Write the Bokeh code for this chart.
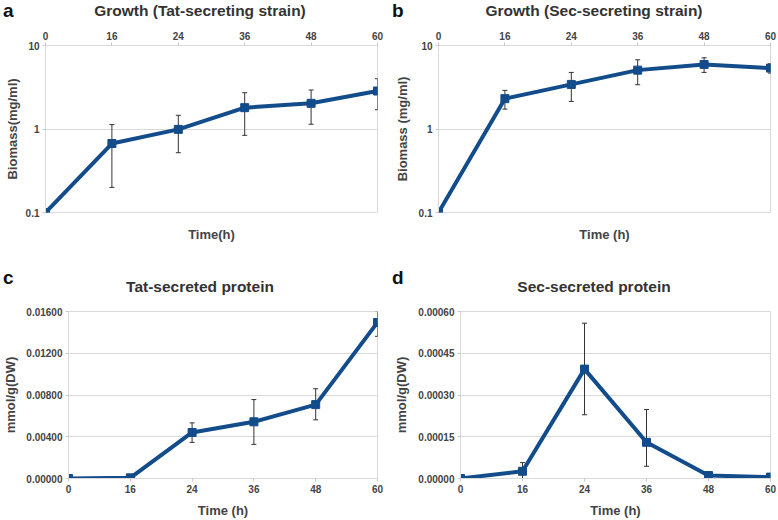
from bokeh.plotting import figure
from bokeh.models import (Range1d, FixedTicker, LinearAxis, Whisker, ColumnDataSource,
                          TeeHead, NumeralTickFormatter, Div)
from bokeh.layouts import column, row
from bokeh.embed import file_html
from bokeh.resources import INLINE

# ---------------- data ----------------
time_labels = ["0", "16", "24", "36", "48", "60"]

tat_biomass = [0.1, 0.67, 0.99, 1.80, 2.03, 2.85]
tat_biomass_hi = [0.1, 1.13, 1.46, 2.72, 2.93, 4.00]
tat_biomass_lo = [0.1, 0.20, 0.52, 0.84, 1.14, 1.70]

sec_biomass = [0.1, 2.31, 3.42, 5.07, 5.93, 5.36]
sec_biomass_hi = [0.1, 2.90, 4.76, 6.74, 7.13, 6.04]
sec_biomass_lo = [0.1, 1.73, 2.14, 3.39, 4.76, 4.67]

tat_protein = [0.0, 0.00006, 0.00441, 0.00543, 0.00708, 0.01495]
tat_protein_hi = [0.0, 0.00006, 0.00533, 0.00756, 0.00860, 0.01606]
tat_protein_lo = [0.0, 0.00006, 0.00346, 0.00327, 0.00562, 0.01362]

sec_protein = [0.0, 0.000026, 0.000393, 0.000130, 0.0000107, 0.000005]
sec_protein_hi = [0.0, 0.000057, 0.000558, 0.000248, 0.000015, 0.000005]
sec_protein_lo = [0.0, -0.000005, 0.000229, 0.000044, 0.000007, 0.000005]

biomass_ticks = [0.1, 1, 10]
tat_protein_ticks = [0.0, 0.004, 0.008, 0.012, 0.016]
sec_protein_ticks = [0.0, 0.00015, 0.0003, 0.00045, 0.0006]

# ---------------- style ----------------
FONT = "Liberation Sans"
LINE = "#124c8a"
GRID = "#d9d9d9"
TXT = "#444444"


def header(letter, title, width, height, letter_cy, title_cx, title_cy):
    html = (
        f'<div style="position:relative;width:{width}px;height:{height}px;'
        f'font-family:\'{FONT}\',Arial,sans-serif;white-space:nowrap;">'
        f'<span style="position:absolute;left:3px;top:{letter_cy - 12}px;line-height:24px;'
        f'font-size:19px;font-weight:bold;color:#111111;">{letter}</span>'
        f'<span style="position:absolute;left:0px;width:{2 * title_cx}px;text-align:center;'
        f'top:{title_cy - 10}px;line-height:20px;font-size:15.5px;font-weight:bold;'
        f'color:#333333;">{title}</span></div>'
    )
    return Div(text=html, width=width, height=height, margin=0)


def style_axis_label(ax):
    ax.axis_label_text_font = FONT
    ax.axis_label_text_font_style = "bold"
    ax.axis_label_text_font_size = "13px"
    ax.axis_label_text_color = TXT


def style_ticks(ax):
    ax.major_label_text_font = FONT
    ax.major_label_text_font_style = "bold"
    ax.major_label_text_font_size = "10px"
    ax.major_label_text_color = TXT
    ax.major_label_standoff = 3
    ax.axis_line_color = GRID
    ax.major_tick_line_color = "#c8c8c8"
    ax.major_tick_in = 0
    ax.major_tick_out = 3
    ax.minor_tick_line_color = None


def make_panel(ylabel, xlabel, y, hi, lo, log_scale, yticks, yfmt,
               top_axis, width, height, bl, br, bt, bb, ylab_standoff):
    idx = list(range(len(time_labels)))
    kw = dict(width=width, height=height, output_backend="svg", toolbar_location=None,
              min_border_left=bl, min_border_right=br, min_border_top=bt, min_border_bottom=bb,
              x_range=Range1d(idx[0], idx[-1]),
              y_range=Range1d(yticks[0], yticks[-1]),
              x_axis_location="above" if top_axis else "below")
    if log_scale:
        kw["y_axis_type"] = "log"
    p = figure(**kw)
    p.margin = 0
    p.outline_line_color = GRID
    p.xgrid.visible = False
    p.ygrid.grid_line_color = GRID
    p.ygrid.ticker = FixedTicker(ticks=yticks)

    xa = p.xaxis[0]
    xa.ticker = FixedTicker(ticks=idx)
    xa.major_label_overrides = {i: t for i, t in zip(idx, time_labels)}
    style_ticks(xa)
    if top_axis:
        ba = LinearAxis(ticker=FixedTicker(ticks=[]), axis_label=xlabel)
        ba.axis_line_color = None
        ba.major_tick_line_color = None
        ba.minor_tick_line_color = None
        ba.major_label_text_font_size = "0px"
        ba.axis_label_standoff = 14
        p.add_layout(ba, "below")
        style_axis_label(ba)
    else:
        xa.axis_label = xlabel
        xa.axis_label_standoff = 7
        style_axis_label(xa)

    ya = p.yaxis[0]
    ya.ticker = FixedTicker(ticks=yticks)
    ya.formatter = NumeralTickFormatter(format=yfmt)
    ya.axis_label = ylabel
    ya.axis_label_standoff = ylab_standoff
    style_axis_label(ya)
    style_ticks(ya)

    keep = [i for i in idx if hi[i] != lo[i]]
    esrc = ColumnDataSource(dict(x=[idx[i] for i in keep], hi=[hi[i] for i in keep],
                                 lo=[lo[i] for i in keep]))
    p.add_layout(Whisker(source=esrc, base="x", upper="hi", lower="lo",
                         line_color="#333333", line_width=1,
                         upper_head=TeeHead(size=5, line_color="#333333", line_width=1),
                         lower_head=TeeHead(size=5, line_color="#333333", line_width=1)))

    src = ColumnDataSource(dict(x=idx, y=y))
    p.line("x", "y", source=src, line_color=LINE, line_width=4, line_join="round")
    p.scatter("x", "y", source=src, marker="square", size=8, fill_color=LINE, line_color=LINE)
    return p


ha = header("a", "Growth (Tat-secreting strain)", 389, 22, 11, 200, 11)
hb = header("b", "Growth (Sec-secreting strain)", 389, 22, 11, 205, 11)
hc = header("c", "Tat-secreted protein", 389, 40, 18, 200, 27)
hd = header("d", "Sec-secreted protein", 389, 40, 18, 205, 27)

pa = make_panel("Biomass(mg/ml)", "Time(h)", tat_biomass, tat_biomass_hi, tat_biomass_lo,
                True, biomass_ticks, "0.[0]", True, 389, 238, 45, 12, 23, 48, 3)
pb = make_panel("Biomass (mg/ml)", "Time (h)", sec_biomass, sec_biomass_hi, sec_biomass_lo,
                True, biomass_ticks, "0.[0]", True, 389, 238, 49, 8, 23, 48, 6)
pc = make_panel("mmol/g(DW)", "Time (h)", tat_protein, tat_protein_hi, tat_protein_lo,
                False, tat_protein_ticks, "0.00000", False, 389, 220, 67, 12, 11, 41, 5)
pd_ = make_panel("mmol/g(DW)", "Time (h)", sec_protein, sec_protein_hi, sec_protein_lo,
                 False, sec_protein_ticks, "0.00000", False, 389, 220, 71, 8, 11, 41, 6)

layout = column(row(ha, hb), row(pa, pb), row(hc, hd), row(pc, pd_))
open("out.html", "w").write(file_html(layout, INLINE))
